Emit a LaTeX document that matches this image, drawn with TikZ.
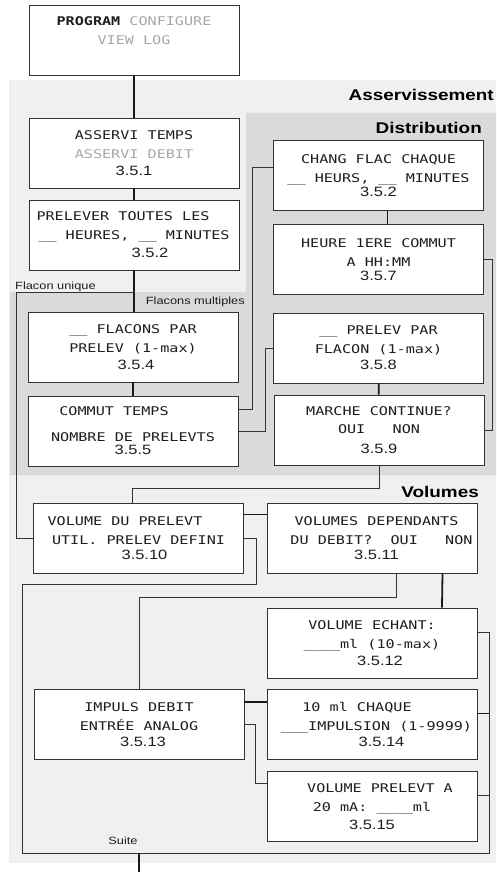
\documentclass[tikz,border=0pt]{standalone}
\usepackage{fontspec}
\newfontfamily\lcdfont[FakeStretch=1.26]{DejaVu Sans Mono}
\newfontfamily\arialfont[FakeStretch=1.22]{Liberation Sans}
\usepackage{xcolor}
\definecolor{panellight}{RGB}{239,240,240}
\definecolor{paneldark}{RGB}{217,218,219}
\definecolor{boxline}{RGB}{51,51,51}
\definecolor{lcdtext}{RGB}{30,30,30}
\definecolor{lcdgrey}{RGB}{168,168,168}
\usepackage{tikz}
\usetikzlibrary{calc}
\newcommand{\menuno}[1]{{\arialfont\fontsize{13.5}{16}\selectfont #1}}

\begin{document}
\begin{tikzpicture}[x=1pt, y=-1pt,
    menubox/.style={draw=boxline, line width=0.9pt, fill=white,
      minimum width=210pt, minimum height=70pt, inner sep=0pt,
      align=center, text=lcdtext, font=\lcdfont\fontsize{12}{19}\selectfont},
    mainline/.style={line width=1.8pt, black!90},
    sideline/.style={line width=0.9pt, boxline},
    paneltitle/.style={font=\arialfont\bfseries\fontsize{15.5}{18}\selectfont,
      anchor=base east, inner sep=0pt},
    branchtext/.style={font=\arialfont\fontsize{10.5}{12}\selectfont,
      text=lcdtext, anchor=base, inner sep=0pt}]
  \useasboundingbox (0,0) rectangle (496,872);
  % Panels
  \fill[panellight] (9,80) rectangle (496,863);
  \fill[paneldark] (246,113) -- (496,113) -- (496,475) -- (10,475) -- (10,292) -- (246,292) -- cycle;
  \node[paneltitle] (tasserv) at (494,101) {Asservissement};
  \node[paneltitle] (tdistr) at (482,134) {Distribution};
  \node[paneltitle] (tvol) at (479,497) {Volumes};
  % Menu screens, left column
  \node[menubox] (prog) at (134,40.5) {{\bfseries PROGRAM} {\color{lcdgrey}CONFIGURE}\\{\color{lcdgrey}VIEW LOG}\\~};
  \node[menubox] (b351) at (134,153) {ASSERVI TEMPS\\{\color{lcdgrey}ASSERVI DEBIT}\\[-2pt]\menuno{3.5.1}};
  \node[menubox] (b352a) at (134,235) {PRELEVER TOUTES LES\hspace*{22pt}\\\_\_ HEURES, \_\_ MINUTES\\[-1pt]\hspace*{32pt}\menuno{3.5.2}};
  \node[menubox] (b354) at (133,347) {\_\_ FLACONS PAR\\PRELEV (1-max)\hspace*{60pt}\\[-2pt]\hspace*{6pt}\menuno{3.5.4}};
  \node[menubox] (b355) at (133,431) {COMMUT TEMPS\hspace*{38pt}\\[7pt]NOMBRE DE PRELEVTS\hspace*{29pt}\\[-6pt]\menuno{3.5.5}};
  % Menu screens, distribution column
  \node[menubox] (b352b) at (378.5,175.5) {CHANG FLAC CHAQUE\\\_\_ HEURS, \_\_ MINUTES\\[-5pt]\menuno{3.5.2}};
  \node[menubox] (b357) at (378.5,259.5) {HEURE 1ERE COMMUT\\A HH:MM\\[-5pt]\menuno{3.5.7}};
  \node[menubox] (b358) at (378.5,348) {\_\_ PRELEV PAR\\FLACON (1-max)\\[-3pt]\menuno{3.5.8}};
  \node[menubox] (b359) at (379,430) {MARCHE CONTINUE?\\[-1pt]OUI~~~NON\\[1pt]\menuno{3.5.9}};
  % Menu screens, volumes
  \node[menubox] (b310) at (138.5,538) {VOLUME DU PRELEVT\hspace*{27pt}\\UTIL. PRELEV DEFINI\\[-4pt]\hspace*{12pt}\menuno{3.5.10}};
  \node[menubox] (b311) at (372.5,538) {\hspace*{8pt}VOLUMES DEPENDANTS\\\hspace*{18pt}DU DEBIT?~~OUI~~~NON\\[-4pt]\hspace*{8pt}\menuno{3.5.11}};
  \node[menubox] (b312) at (372,643) {VOLUME ECHANT:\\\_\_\_\_ml (10-max)\\[-2pt]\hspace*{16pt}\menuno{3.5.12}};
  \node[menubox] (b313) at (139,724.5) {IMPULS DEBIT\\ENTRÉE ANALOG\hspace*{10pt}\\[-3pt]\hspace*{8pt}\menuno{3.5.13}};
  \node[menubox] (b314) at (372,724.5) {10 ml CHAQUE\hspace*{30pt}\\\hspace*{9pt}\_\_\_IMPULSION (1-9999)\\[-3pt]\hspace*{19pt}\menuno{3.5.14}};
  \node[menubox] (b315) at (372,806.5) {\hspace*{16pt}VOLUME PRELEVT A\\20 mA: \_\_\_\_ml\\[-1pt]\menuno{3.5.15}};
  % Branch labels
  \node[branchtext, anchor=base west] (lunique) at (15,289) {Flacon unique};
  \node[branchtext, anchor=base east] (lmulti) at (245,304) {Flacons multiples};
  \node[branchtext] (lsuite) at (123,844) {Suite};
  % Main path
  \draw[mainline] (prog) -- (b351);
  \draw[mainline] (b351) -- (b352a);
  \draw[mainline] (b352a.south) -- (b352a.south |- b354.north);
  \draw[mainline] (b354) -- (b355);
  % Flacon unique branch
  \coordinate (fusplit) at (b352a.south |- 0,292);
  \draw[sideline] (fusplit) -- (16,292) |- (b310.west);
  % Distribution links
  \draw[sideline] ([yshift=22pt]b355.east) -- ++(14,0) |- ([yshift=8pt]b352b.west);
  \draw[sideline] (b355.east) -- ++(27,0) |- (b358.west);
  \draw[mainline] ([xshift=9pt]b352b.south) -- ([xshift=9pt]b357.north);
  \draw[mainline] (b358) -- (b359);
  \draw[sideline] (b357.east) -- ++(8,0) |- (b359.east);
  \draw[sideline] (b359.south) -- ++(0,23) -| ([xshift=-6pt]b310.north);
  % Volume links
  \draw[mainline] ([yshift=-12pt]b310.north east) -- ([yshift=-12pt]b311.north west);
  \draw[mainline] ([xshift=70pt]b311.south) -- ([xshift=70pt]b312.north);
  \draw[sideline] ([xshift=24pt]b311.south) -- ++(0,24) -| (b313.north);
  \draw[mainline] ([yshift=-13pt]b313.north east) -- ([yshift=-13pt]b314.north west);
  \draw[sideline] (b313.east) -- ++(11,0) |- ([yshift=23pt]b315.west);
  % Suite frame
  \coordinate (suitesw) at (22,853);
  \coordinate (suitese) at (489,853);
  \coordinate (suiteout) at (139,872);
  \draw[sideline] (b310.east) -- ++(12,0) |- (22,584) -- (suitesw) -- (suitese) |- ([yshift=11pt]b312.east);
  \draw[mainline] ([yshift=11pt]b314.east) -- ++(12,0);
  \draw[sideline] ([yshift=11pt]b315.east) -- ++(12,0);
  \draw[mainline] (b313.south |- suitesw) -- (suiteout);
\end{tikzpicture}
\end{document}
